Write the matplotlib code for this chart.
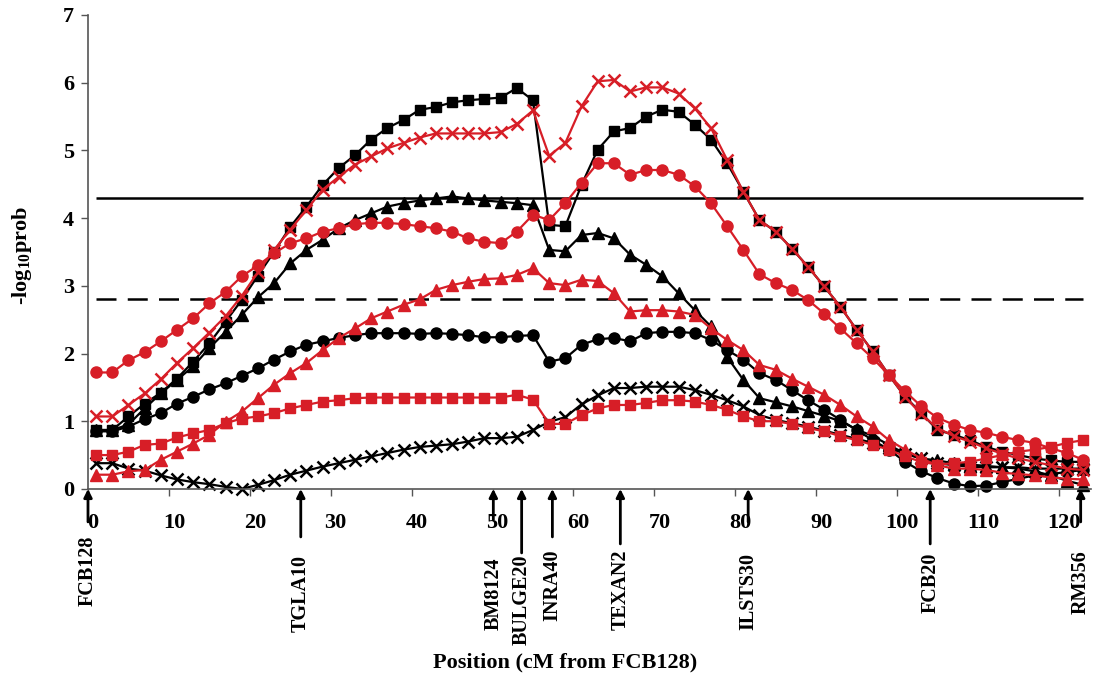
import matplotlib.pyplot as plt
import matplotlib.transforms as mtransforms

plt.rcParams['font.family'] = ['Liberation Serif', 'DejaVu Serif']
plt.rcParams['font.weight'] = 'bold'
plt.rcParams['mathtext.fontset'] = 'custom'
plt.rcParams['mathtext.rm'] = 'Liberation Serif:bold'
plt.rcParams['mathtext.bf'] = 'Liberation Serif:bold'

RED = '#d71e27'

# test positions along the chromosome (cM from FCB128)
pos_cm = list(range(1, 124, 2))

sq_black = [0.87, 0.87, 1.07, 1.26, 1.42, 1.63, 1.88, 2.15, 2.47, 2.79,
            3.15, 3.50, 3.87, 4.17, 4.49, 4.74, 4.93, 5.16, 5.33, 5.45,
            5.60, 5.64, 5.71, 5.74, 5.76, 5.78, 5.92, 5.74, 3.90, 3.88,
            4.49, 5.01, 5.28, 5.33, 5.50, 5.60, 5.57, 5.38, 5.16, 4.81,
            4.39, 3.97, 3.80, 3.55, 3.28, 2.99, 2.69, 2.35, 2.03, 1.68,
            1.36, 1.12, 0.87, 0.80, 0.72, 0.62, 0.55, 0.50, 0.45, 0.42,
            0.40, 0.40]
tri_black = [0.87, 0.87, 0.95, 1.19, 1.41, 1.61, 1.81, 2.08, 2.32, 2.57,
             2.83, 3.04, 3.33, 3.53, 3.68, 3.85, 3.97, 4.07, 4.17, 4.22,
             4.26, 4.29, 4.32, 4.29, 4.26, 4.24, 4.22, 4.19, 3.53, 3.51,
             3.75, 3.78, 3.70, 3.46, 3.31, 3.14, 2.89, 2.64, 2.40, 1.95,
             1.61, 1.34, 1.28, 1.22, 1.15, 1.08, 1.00, 0.88, 0.78, 0.65,
             0.52, 0.45, 0.42, 0.38, 0.36, 0.34, 0.32, 0.30, 0.26, 0.20,
             0.12, 0.06]
circ_black = [0.85, 0.85, 0.92, 1.03, 1.12, 1.26, 1.36, 1.47, 1.56, 1.67,
              1.78, 1.91, 2.03, 2.13, 2.18, 2.23, 2.27, 2.30, 2.30, 2.30,
              2.29, 2.30, 2.29, 2.27, 2.24, 2.24, 2.26, 2.27, 1.88, 1.93,
              2.13, 2.21, 2.23, 2.18, 2.30, 2.32, 2.32, 2.30, 2.20, 2.05,
              1.91, 1.71, 1.61, 1.46, 1.31, 1.17, 1.02, 0.87, 0.72, 0.58,
              0.40, 0.26, 0.16, 0.08, 0.04, 0.05, 0.10, 0.15, 0.20, 0.22,
              0.25, 0.28]
x_black = [0.38, 0.38, 0.30, 0.27, 0.20, 0.14, 0.10, 0.07, 0.03, 0.00,
           0.06, 0.13, 0.21, 0.27, 0.33, 0.38, 0.43, 0.48, 0.53, 0.58,
           0.62, 0.64, 0.66, 0.70, 0.75, 0.75, 0.77, 0.87, 0.99, 1.06,
           1.25, 1.38, 1.49, 1.49, 1.51, 1.51, 1.51, 1.46, 1.39, 1.31,
           1.22, 1.09, 1.02, 0.97, 0.92, 0.86, 0.80, 0.74, 0.68, 0.60,
           0.52, 0.45, 0.38, 0.35, 0.33, 0.32, 0.32, 0.32, 0.30, 0.30,
           0.30, 0.30]
x_red = [1.07, 1.07, 1.24, 1.41, 1.62, 1.86, 2.08, 2.31, 2.55, 2.85,
         3.20, 3.53, 3.83, 4.12, 4.42, 4.61, 4.79, 4.91, 5.03, 5.11,
         5.19, 5.25, 5.25, 5.25, 5.25, 5.27, 5.39, 5.59, 4.92, 5.11,
         5.65, 6.02, 6.04, 5.87, 5.93, 5.93, 5.84, 5.62, 5.33, 4.86,
         4.39, 3.97, 3.80, 3.55, 3.28, 2.99, 2.69, 2.35, 2.03, 1.68,
         1.36, 1.10, 0.90, 0.78, 0.70, 0.60, 0.52, 0.45, 0.40, 0.35,
         0.30, 0.28]
circ_red = [1.72, 1.72, 1.90, 2.02, 2.18, 2.35, 2.52, 2.74, 2.91, 3.14,
            3.30, 3.48, 3.63, 3.70, 3.80, 3.85, 3.91, 3.93, 3.93, 3.91,
            3.88, 3.85, 3.80, 3.70, 3.65, 3.63, 3.80, 4.05, 3.97, 4.22,
            4.52, 4.81, 4.81, 4.64, 4.71, 4.71, 4.64, 4.47, 4.22, 3.88,
            3.53, 3.17, 3.04, 2.94, 2.79, 2.59, 2.37, 2.15, 1.93, 1.68,
            1.44, 1.22, 1.05, 0.95, 0.87, 0.83, 0.77, 0.72, 0.68, 0.60,
            0.53, 0.43]
tri_red = [0.21, 0.21, 0.26, 0.28, 0.43, 0.55, 0.67, 0.80, 0.99, 1.14,
           1.34, 1.54, 1.71, 1.86, 2.05, 2.23, 2.37, 2.52, 2.62, 2.72,
           2.80, 2.94, 3.01, 3.06, 3.10, 3.11, 3.16, 3.26, 3.04, 3.01,
           3.09, 3.07, 2.89, 2.62, 2.64, 2.64, 2.62, 2.57, 2.37, 2.20,
           2.05, 1.83, 1.76, 1.63, 1.51, 1.39, 1.24, 1.07, 0.92, 0.72,
           0.58, 0.45, 0.35, 0.30, 0.30, 0.28, 0.24, 0.22, 0.20, 0.17,
           0.15, 0.14]
sq_red = [0.50, 0.50, 0.55, 0.65, 0.67, 0.76, 0.82, 0.87, 0.97, 1.04,
          1.07, 1.12, 1.19, 1.24, 1.29, 1.31, 1.34, 1.35, 1.35, 1.35,
          1.35, 1.35, 1.35, 1.35, 1.35, 1.35, 1.39, 1.32, 0.96, 0.96,
          1.09, 1.19, 1.24, 1.24, 1.27, 1.31, 1.31, 1.29, 1.24, 1.17,
          1.07, 1.00, 1.00, 0.96, 0.90, 0.85, 0.78, 0.72, 0.65, 0.58,
          0.48, 0.40, 0.36, 0.38, 0.40, 0.45, 0.50, 0.55, 0.58, 0.62,
          0.68, 0.72]

# significance thresholds
thr_solid = 4.3
thr_dashed = 2.8

marker_names = ['FCB128', 'TGLA10', 'BM8124', 'BULGE20', 'INRA40',
                'TEXAN2', 'ILSTS30', 'FCB20', 'RM356']
marker_cm = [0.0, 26.3, 50.1, 53.6, 57.4, 65.8, 81.6, 104.1, 122.7]

x_ticks = list(range(0, 121, 10))
y_ticks = list(range(0, 8))

fig = plt.figure(figsize=(11, 6.8), dpi=100)
ax = fig.add_axes([0.08, 0.281, 0.912, 0.697])

# black curves first, red ones drawn over them
styles = [
    (sq_black, 'black', 's', 7.5),
    (tri_black, 'black', '^', 8.5),
    (circ_black, 'black', 'o', 8),
    (x_black, 'black', 'x', 8),
    (sq_red, RED, 's', 7.5),
    (tri_red, RED, '^', 8.5),
    (circ_red, RED, 'o', 8),
    (x_red, RED, 'x', 8.5),
]
for vals, col, mk, ms in styles:
    ax.plot(pos_cm, vals, color=col, marker=mk, ms=ms, lw=1.6,
            mec=col, mfc=col, mew=1.8 if mk == 'x' else 1.0, clip_on=False)

ax.hlines(thr_solid, 1, 123, color='black', lw=1.8, zorder=1)
ax.hlines(thr_dashed, 1, 123, color='black', lw=1.8, linestyles=(0, (8, 4.5)),
          zorder=1)

ax.set_xlim(0, 124)
ax.set_ylim(0, 7)
ax.set_xticks(x_ticks)
ax.set_yticks(y_ticks)
ax.tick_params(axis='x', labelsize=16, length=5, width=1, pad=12, color='#555555')
ax.tick_params(axis='y', labelsize=16, length=5, width=1, pad=5, color='#555555')
shift = mtransforms.ScaledTranslation(5 / 100, 0, fig.dpi_scale_trans)
for lab in ax.get_xticklabels():
    lab.set_transform(lab.get_transform() + shift)
for side in ['top', 'right']:
    ax.spines[side].set_visible(False)
for side in ['left', 'bottom']:
    ax.spines[side].set_color('#555555')
    ax.spines[side].set_linewidth(1.2)

# marker arrows and names under the axis (pixel rows converted to axes fraction)
tail_px = [522, 537, 520, 553, 537, 544, 522, 544, 522]
name_px = [536, 555, 558, 555, 550, 550, 553, 553, 550]
trans = ax.get_xaxis_transform()
for name, cm, tp, npx in zip(marker_names, marker_cm, tail_px, name_px):
    ax.annotate('', xy=(cm, 0), xytext=(cm, (489 - tp) / 474),
                xycoords=trans, textcoords=trans, annotation_clip=False,
                arrowprops=dict(arrowstyle='-|>', color='black', lw=2,
                                mutation_scale=12, shrinkA=0, shrinkB=0))
    ax.text(cm, (489 - npx) / 474, name, transform=trans, rotation=90,
            ha='center', va='top', fontsize=14.5, fontweight='bold', clip_on=False)

fig.text(22 / 1100, 1 - 255 / 680, r'-log$_{\mathbf{10}}$prob', rotation=90,
         ha='center', va='center', fontsize=16, fontweight='bold')
fig.text(565 / 1100, 1 - 662 / 680, 'Position (cM from FCB128)',
         ha='center', va='center', fontsize=16, fontweight='bold')

fig.savefig('out.png', dpi=100)
